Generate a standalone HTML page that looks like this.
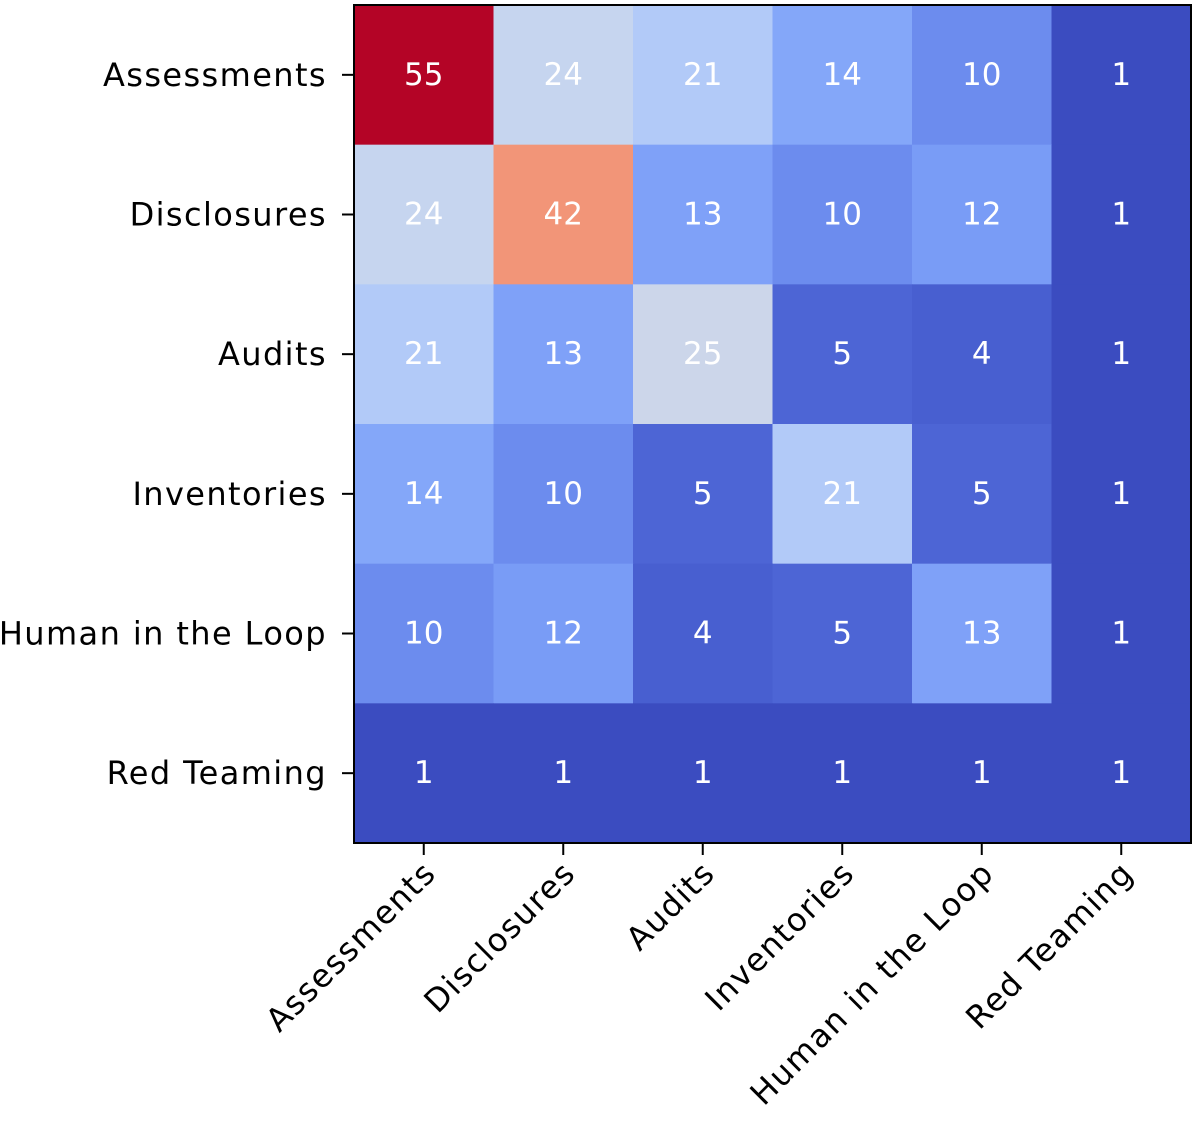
<!DOCTYPE html>
<html><head><meta charset="utf-8"><style>
html,body{margin:0;padding:0;background:#fff;width:1200px;height:1125px;overflow:hidden}
svg{display:block;font-family:"DejaVu Sans","Liberation Sans",sans-serif}
.lab{letter-spacing:1.4px}
</style></head><body>
<svg id="chart" width="1200" height="1125"></svg>
<script>
const labels = ["Assessments","Disclosures","Audits","Inventories","Human in the Loop","Red Teaming"];
const row0 = [55,24,21,14,10,1];
const row1 = [24,42,13,10,12,1];
const row2 = [21,13,25,5,4,1];
const row3 = [14,10,5,21,5,1];
const row4 = [10,12,4,5,13,1];
const row5 = [1,1,1,1,1,1];
const values = [row0,row1,row2,row3,row4,row5];

const L=354,T=5,R=1191,B=843;
const n=labels.length;
const cw=(R-L)/n, ch=(B-T)/n;
const xPos=i=>L+i*cw, yPos=j=>T+j*ch;
const all=values.flat();
const vmin=Math.min(...all), vmax=Math.max(...all);
const stops=[[0,59,76,192],[0.1,83,110,221],[0.2,120,155,246],[0.3,150,184,254],[0.4,190,210,246],[0.5,221,220,220],[0.6,245,194,170],[0.7,247,168,137],[0.8,238,136,108],[0.9,212,78,65],[1,180,4,38]];
function color(v){
  const t=(v-vmin)/(vmax-vmin);
  for(let k=1;k<stops.length;k++){
    if(t<=stops[k][0]){
      const a=stops[k-1],b=stops[k],f=(t-a[0])/(b[0]-a[0]);
      return `rgb(${[1,2,3].map(i=>Math.round(a[i]+(b[i]-a[i])*f)).join(",")})`;
    }
  }
  return "rgb(180,4,38)";
}
const NS="http://www.w3.org/2000/svg";
const svg=document.getElementById("chart");
function mk(tag,attrs,parent){const e=document.createElementNS(NS,tag);for(const k in attrs)e.setAttribute(k,attrs[k]);(parent||svg).appendChild(e);return e;}
const cells=mk("g",{});


values.forEach((row,j)=>row.forEach((v,i)=>{
  const r=mk("rect",{x:xPos(i),y:yPos(j),width:cw+0.5,height:ch+0.5,fill:color(v)},cells);
  
  
  const t=mk("text",{x:xPos(i)+cw/2,y:yPos(j)+ch/2+10,"text-anchor":"middle","font-size":"31",fill:"#fff"},cells);
  t.textContent=v;
  
  
}));
const frame=mk("rect",{x:L,y:T,width:R-L,height:B-T,fill:"none",stroke:"#000","stroke-width":"2"});


labels.forEach((lab,j)=>{
  const y=yPos(j)+ch/2;
  const tk=mk("line",{x1:L-12,x2:L,y1:y,y2:y,stroke:"#000","stroke-width":"2"});
  
  
  const t=mk("text",{x:L-27,y:y+11,"text-anchor":"end","font-size":"32",fill:"#000","class":"lab"});
  t.textContent=lab;
  
  
});
labels.forEach((lab,i)=>{
  const x=xPos(i)+cw/2;
  const tk=mk("line",{x1:x,x2:x,y1:B,y2:B+12,stroke:"#000","stroke-width":"2"});
  
  
  const t=mk("text",{x:0,y:0,"text-anchor":"end","font-size":"32",fill:"#000","class":"lab",transform:`translate(${x+14},${B+32}) rotate(-45)`});
  t.textContent=lab;
  
  
});
</script>
</body></html>
